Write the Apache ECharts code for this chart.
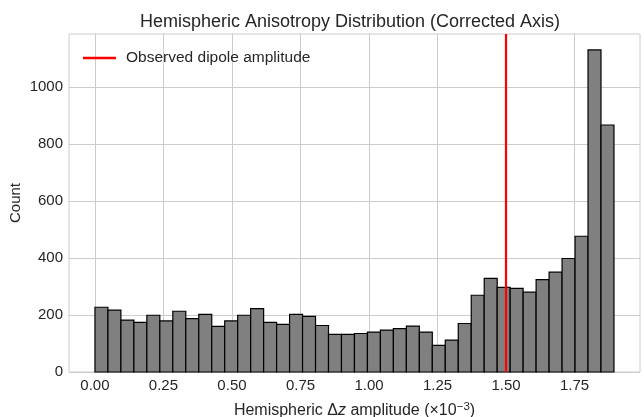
<!DOCTYPE html>
<html>
<head>
<meta charset="utf-8">
<script src="https://cdn.jsdelivr.net/npm/echarts@6/dist/echarts.min.js"></script>
<style>
  html, body { margin: 0; padding: 0; background: #fff; }
  #chart { width: 644px; height: 417px; }
</style>
</head>
<body>
<div id="chart"></div>
<script>
// histogram bins: 40 equal bins starting at 0
const binStart = 0
const binWidth = 0.04735
const counts = [
  227, 217, 182, 174, 199, 179, 213, 187, 202, 160,
  179, 199, 222, 174, 167, 202, 195, 163, 132, 132,
  135, 140, 147, 152, 161, 140, 93, 112, 170, 269,
  328, 297, 293, 280, 324, 350, 398, 476, 1129, 866
]
const observed = 1.5
const xTicks = [0, 0.25, 0.5, 0.75, 1.0, 1.25, 1.5, 1.75]
const yTicks = [0, 200, 400, 600, 800, 1000]
const xRange = [-0.0947, 1.989]
const yMax = 1185

const font = 'Liberation Sans, Arial, sans-serif'
const textColor = '#262626'
const gridColor = '#cccccc'

const bins = counts.map((c, i) => [binStart + i * binWidth, binStart + (i + 1) * binWidth, c])

const chart = echarts.init(document.getElementById('chart'))

const option = {
  animation: false,
  textStyle: { fontFamily: font },
  title: {
    text: 'Hemispheric Anisotropy Distribution (Corrected Axis)',
    left: 345,
    textAlign: 'center',
    top: 8,
    textStyle: { fontFamily: font, fontSize: 18, fontWeight: 'normal', color: textColor }
  },
  legend: {
    left: 78,
    top: 45,
    icon: 'rect',
    itemWidth: 33,
    itemHeight: 2.5,
    textStyle: { fontFamily: font, fontSize: 15.5, color: textColor, padding: [0, 0, 0, 5] },
    data: ['Observed dipole amplitude']
  },
  grid: {
    left: 69,
    right: 4,
    top: 34,
    bottom: 45,
    outerBoundsMode: 'none',
    containLabel: false,
    show: true,
    borderColor: gridColor,
    borderWidth: 1,
    backgroundColor: '#fff'
  },
  xAxis: {
    type: 'value',
    min: xRange[0],
    max: xRange[1],
    axisLine: { show: false },
    axisTick: { show: false, customValues: xTicks },
    axisLabel: {
      customValues: xTicks,
      formatter: v => v.toFixed(2),
      fontSize: 15,
      color: textColor,
      margin: 6
    },
    splitLine: { show: true, lineStyle: { color: gridColor, width: 1 } },
    name: 'Hemispheric \u0394{i|z} amplitude (\u00d710{sup|\u22123})',
    nameLocation: 'middle',
    nameGap: 29,
    nameTextStyle: {
      fontSize: 16,
      color: textColor,
      rich: {
        i: { fontSize: 16, fontStyle: 'italic', color: textColor },
        sup: { fontSize: 11.5, verticalAlign: 'top', padding: [0, 0, 8, 0], color: textColor }
      }
    }
  },
  yAxis: {
    type: 'value',
    min: 0,
    max: yMax,
    axisLine: { show: false },
    axisTick: { show: false, customValues: yTicks },
    axisLabel: { customValues: yTicks, formatter: v => String(v), fontSize: 15, color: textColor, margin: 6 },
    splitLine: { show: true, lineStyle: { color: gridColor, width: 1 } },
    name: 'Count',
    nameLocation: 'middle',
    nameGap: 46,
    nameMoveOverlap: false,
    nameTextStyle: { fontSize: 15, color: textColor }
  },
  series: [
    {
      type: 'custom',
      name: 'hist',
      data: bins,
      encode: { x: [0, 1], y: 2 },
      renderItem: (params, api) => {
        const p0 = api.coord([api.value(0), api.value(2)])
        const p1 = api.coord([api.value(1), 0])
        return {
          type: 'rect',
          shape: { x: p0[0], y: p0[1], width: p1[0] - p0[0], height: p1[1] - p0[1] },
          style: { fill: '#808080', stroke: '#000', lineWidth: 1.2 }
        }
      },
      z: 2
    },
    {
      type: 'line',
      name: 'Observed dipole amplitude',
      data: [[observed, 0], [observed, yMax]],
      symbol: 'none',
      lineStyle: { color: '#ff0000', width: 2.2 },
      itemStyle: { color: '#ff0000' },
      z: 5
    }
  ]
}

chart.setOption(option)
</script>
</body>
</html>
